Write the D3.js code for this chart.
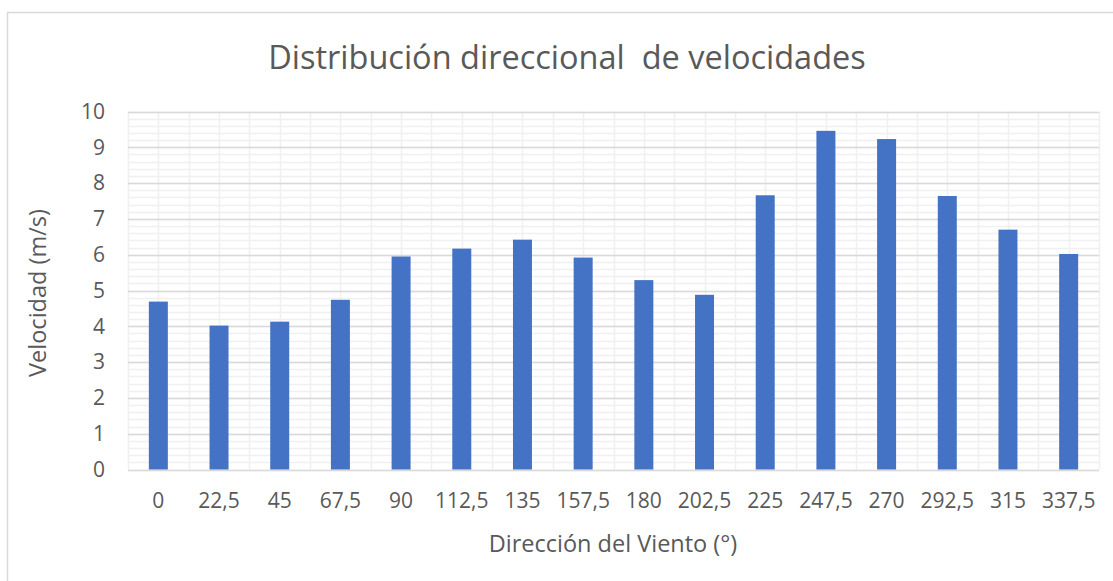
<!DOCTYPE html>
<html>
<head>
<meta charset="utf-8">
<script src="https://cdn.jsdelivr.net/npm/d3@7"></script>
<style>
  html, body { margin: 0; padding: 0; background: #fff; }
  svg { display: block; }
  text { font-family: "Open Sans", "Noto Sans", sans-serif; fill: #595959; }
</style>
</head>
<body>
<svg id="chart" width="1113" height="581"></svg>
<script>
// Wind direction sectors (degrees) and mean speed per sector (m/s)
const directions = ["0", "22,5", "45", "67,5", "90", "112,5", "135", "157,5",
                    "180", "202,5", "225", "247,5", "270", "292,5", "315", "337,5"];
const speeds = [4.69, 4.02, 4.13, 4.74, 5.95, 6.17, 6.42, 5.92,
                5.29, 4.88, 7.66, 9.46, 9.23, 7.64, 6.70, 6.02];
const yTicks = [0, 1, 2, 3, 4, 5, 6, 7, 8, 9, 10];
const yMinorTicks = d3.range(0, 10.001, 0.2);

const plot = { left: 128, right: 1099, top: 111.5, bottom: 469.5 };

const svg = d3.select("#chart");

// outer chart frame
svg.append("rect")
  .attr("x", 7.5).attr("y", 12.5)
  .attr("width", 1120).attr("height", 600)
  .attr("fill", "none").attr("stroke", "#d9d9d9").attr("stroke-width", 1.5);

const x = d3.scaleBand().domain(directions).range([plot.left, plot.right]).padding(0);
const y = d3.scaleLinear().domain([0, 10]).range([plot.bottom, plot.top]);

const grid = svg.append("g");

// minor horizontal gridlines
grid.selectAll("line.hminor").data(yMinorTicks).join("line")
  .attr("x1", plot.left).attr("x2", plot.right)
  .attr("y1", d => Math.round(y(d)) + 0.5).attr("y2", d => Math.round(y(d)) + 0.5)
  .attr("stroke", "#f0f0f0").attr("stroke-width", 1.5);

// vertical gridlines at sector boundaries and centres
const vLines = [];
directions.forEach(d => { vLines.push(x(d)); vLines.push(x(d) + x.bandwidth() / 2); });
vLines.push(plot.right);
grid.selectAll("line.v").data(vLines).join("line")
  .attr("x1", d => Math.round(d) + 0.5).attr("x2", d => Math.round(d) + 0.5)
  .attr("y1", plot.top).attr("y2", plot.bottom)
  .attr("stroke", "#f0f0f0").attr("stroke-width", 1.5);

// major horizontal gridlines
grid.selectAll("line.hmajor").data(yTicks).join("line")
  .attr("x1", plot.left).attr("x2", plot.right)
  .attr("y1", d => Math.round(y(d)) + 0.5).attr("y2", d => Math.round(y(d)) + 0.5)
  .attr("stroke", "#d9d9d9").attr("stroke-width", 1.5);

// bars
const barW = x.bandwidth() * 0.313;
svg.append("g").selectAll("rect").data(speeds).join("rect")
  .attr("x", (d, i) => x(directions[i]) + x.bandwidth() / 2 - barW / 2)
  .attr("width", barW)
  .attr("y", d => y(d))
  .attr("height", d => y(0) - y(d))
  .attr("fill", "#4472c4");

// y axis labels
const yAxis = svg.append("g")
  .attr("transform", `translate(${plot.left},0)`)
  .call(d3.axisLeft(y).tickValues(yTicks).tickSize(0).tickPadding(23).tickFormat(d3.format("d")));
yAxis.select(".domain").remove();
yAxis.selectAll("text").style("font-size", "21px").attr("fill", "#595959");

// x axis labels
const xAxis = svg.append("g")
  .attr("transform", `translate(0,${plot.bottom})`)
  .call(d3.axisBottom(x).tickSize(0).tickPadding(24));
xAxis.select(".domain").remove();
xAxis.selectAll("text").style("font-size", "21px").attr("fill", "#595959");

// title
svg.append("text")
  .attr("x", 567).attr("y", 69)
  .attr("text-anchor", "middle")
  .style("font-size", "32.5px")
  .text("Distribución direccional\u00a0 de velocidades");

// axis titles
svg.append("text")
  .attr("x", 613).attr("y", 552)
  .attr("text-anchor", "middle")
  .style("font-size", "23.5px")
  .text("Dirección del Viento (°)");

svg.append("text")
  .attr("transform", "translate(46,293) rotate(-90)")
  .attr("text-anchor", "middle")
  .style("font-size", "23.5px")
  .text("Velocidad (m/s)");
</script>
</body>
</html>
